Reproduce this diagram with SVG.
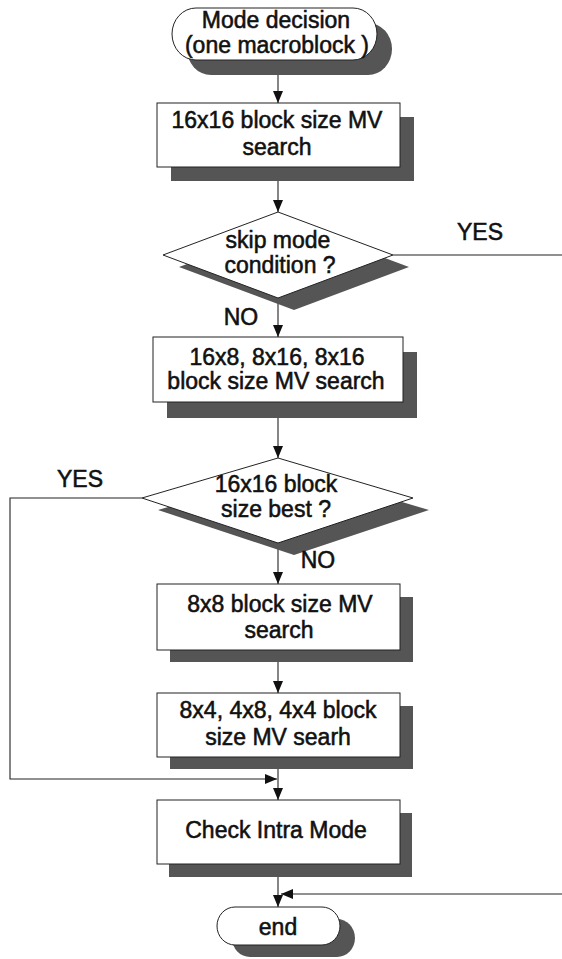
<svg xmlns="http://www.w3.org/2000/svg" width="562" height="959" viewBox="0 0 562 959">
<style>
  .shape { fill: #ffffff; stroke: #222; stroke-width: 1; }
  .shadow { fill: #555555; stroke: none; }
  .t { font-family: "Liberation Sans", Arial, sans-serif; font-size: 23px; fill: #111; stroke: #111; stroke-width: 0.55; text-anchor: middle; }
  .conn { fill: none; stroke: #222; stroke-width: 1.1; }
</style>
<defs>
  <marker id="arr" markerUnits="userSpaceOnUse" markerWidth="12" markerHeight="10" refX="12" refY="5" orient="auto">
    <path d="M0,0 L12,5 L0,10 z" fill="#111"/>
  </marker>
</defs>
<rect width="562" height="959" fill="#ffffff"/>

<g id="connectors">
  <line class="conn" x1="278" y1="60" x2="278" y2="103" marker-end="url(#arr)"/>
  <line class="conn" x1="278" y1="180" x2="278" y2="212" marker-end="url(#arr)"/>
  <line class="conn" x1="393" y1="255" x2="562" y2="255"/>
  <line class="conn" x1="278" y1="298" x2="278" y2="337" marker-end="url(#arr)"/>
  <line class="conn" x1="278" y1="418" x2="278" y2="458" marker-end="url(#arr)"/>
  <line class="conn" x1="278" y1="543" x2="278" y2="584" marker-end="url(#arr)"/>
  <line class="conn" x1="278" y1="662" x2="278" y2="693" marker-end="url(#arr)"/>
  <line class="conn" x1="278" y1="769" x2="278" y2="800" marker-end="url(#arr)"/>
  <polyline class="conn" points="142,498 10,498 10,779 277,779" marker-end="url(#arr)"/>
  <line class="conn" x1="278" y1="877" x2="278" y2="907" marker-end="url(#arr)"/>
  <line class="conn" x1="562" y1="894" x2="281" y2="894" marker-end="url(#arr)"/>
</g>

<g id="start">
  <rect class="shadow" x="187" y="23" width="205" height="52" rx="24" ry="26"/>
  <rect class="shape" x="172" y="8" width="205" height="52" rx="24" ry="26"/>
  <text class="t" x="276" y="28">Mode decision</text>
  <text class="t" x="277" y="53">(one macroblock )</text>
</g>

<g id="mv16x16">
  <rect class="shadow" x="171" y="117" width="243" height="64"/>
  <rect class="shape" x="157" y="103" width="243" height="64"/>
  <text class="t" x="277" y="128">16x16 block size MV</text>
  <text class="t" x="277" y="155">search</text>
</g>

<g id="skip">
  <polygon class="shadow" points="294,224 409,267 294,310 179,267"/>
  <polygon class="shape" points="278,212 393,255 278,298 163,255"/>
  <text class="t" x="278" y="248">skip mode</text>
  <text class="t" x="280" y="273">condition ?</text>
  <text class="t" x="480" y="240">YES</text>
  <text class="t" x="241" y="325">NO</text>
</g>

<g id="mv16x8">
  <rect class="shadow" x="167" y="352" width="250" height="66"/>
  <rect class="shape" x="153" y="337" width="250" height="65"/>
  <text class="t" x="277" y="365">16x8, 8x16, 8x16</text>
  <text class="t" x="276" y="389">block size MV search</text>
</g>

<g id="best16">
  <polygon class="shadow" points="294,470 429,510 294,555 158,510"/>
  <polygon class="shape" points="278,458 413,498 278,543 142,498"/>
  <text class="t" x="276" y="492">16x16 block</text>
  <text class="t" x="276" y="517">size best ?</text>
  <text class="t" x="80" y="487">YES</text>
  <text class="t" x="318" y="568">NO</text>
</g>

<g id="mv8x8">
  <rect class="shadow" x="170" y="597" width="243" height="65"/>
  <rect class="shape" x="157" y="584" width="243" height="66"/>
  <text class="t" x="280" y="612">8x8 block size MV</text>
  <text class="t" x="279" y="638">search</text>
</g>

<g id="mv8x4">
  <rect class="shadow" x="170" y="706" width="243" height="63"/>
  <rect class="shape" x="157" y="693" width="243" height="64"/>
  <text class="t" x="278" y="718">8x4, 4x8, 4x4 block</text>
  <text class="t" x="278" y="745">size MV searh</text>
</g>

<g id="intra">
  <rect class="shadow" x="169" y="813" width="243" height="64"/>
  <rect class="shape" x="157" y="800" width="243" height="64"/>
  <text class="t" x="276" y="838">Check Intra Mode</text>
</g>

<g id="end">
  <rect class="shadow" x="232" y="919" width="123" height="38" rx="18" ry="19"/>
  <rect class="shape" x="217" y="907" width="123" height="38" rx="18" ry="19"/>
  <text class="t" x="278" y="935">end</text>
</g>
</svg>
